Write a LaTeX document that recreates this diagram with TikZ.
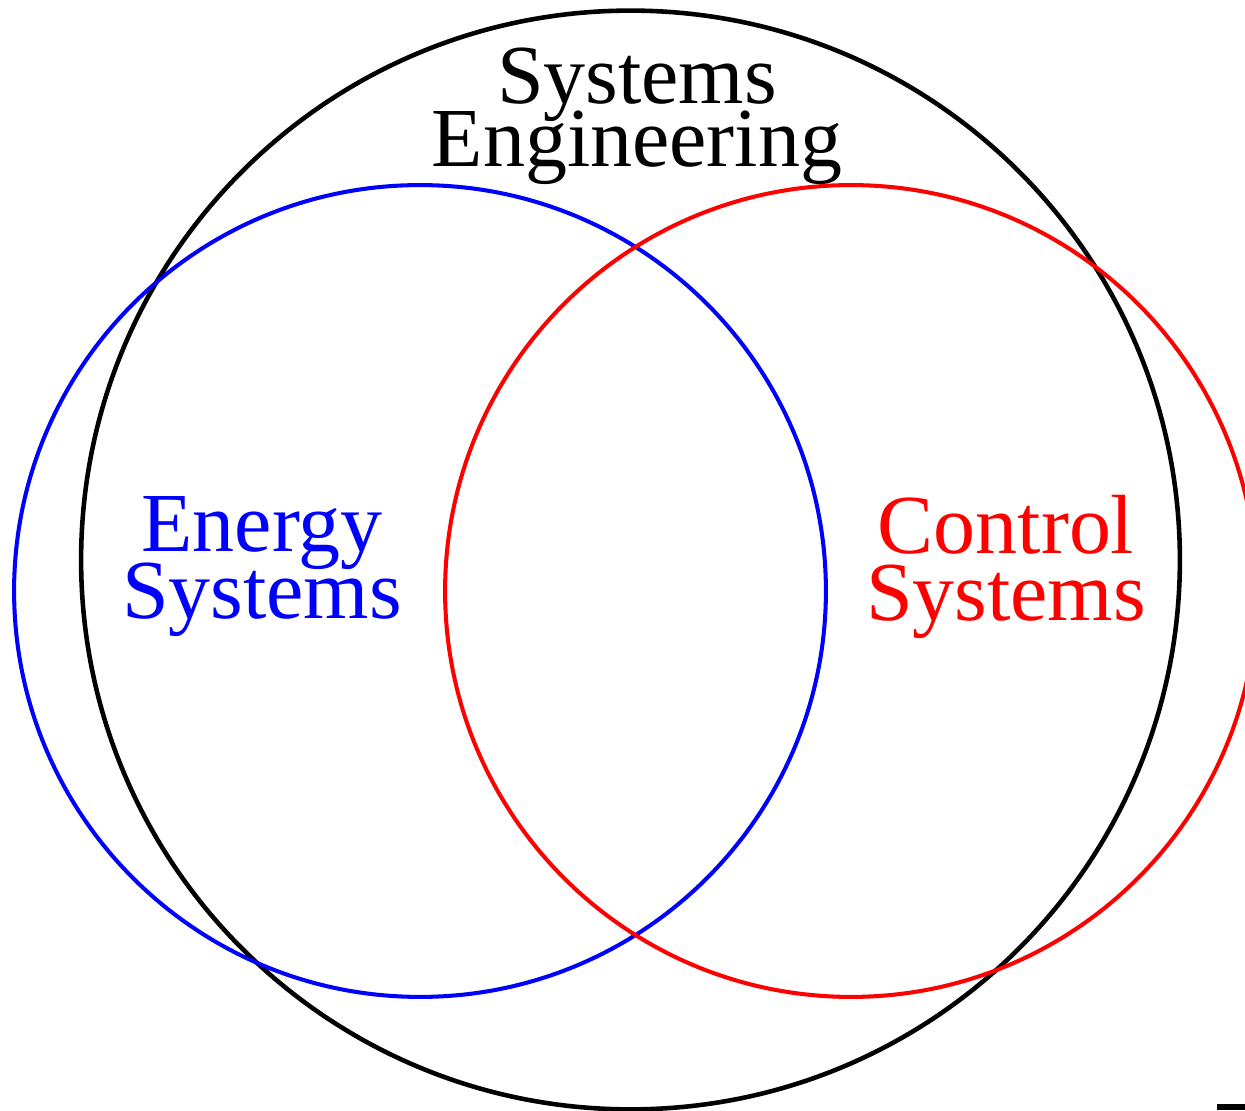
\documentclass[tikz,border=0pt]{standalone}
\usepackage{fontspec}
\setmainfont{Liberation Serif}
\usepackage{xcolor}
\usetikzlibrary{positioning}

\newcommand{\vennfont}[1]{\fontsize{47.8pt}{#1}\selectfont\lineskiplimit=-100pt\relax}

\begin{document}
\begin{tikzpicture}[
  x=0.02cm, y=-0.02cm,
  ring/.style={line width=2.3pt},
  label/.style={align=center,anchor=base,inner sep=0pt,
    font=\vennfont{38.7pt}}
]
\useasboundingbox (0,0) rectangle (1245,1111);

\coordinate (se) at (630.5,560);
\coordinate (es) at (420,591);
\coordinate (cs) at (851,591);

\draw[ring,black,line width=2.6pt] (se) circle[radius=10.99cm];
\draw[ring,blue] (es) circle[radius=8.12cm];
\draw[ring,red] (cs) circle[radius=8.12cm];

\node[label,black,font=\vennfont{36.4pt}] (seng) at (637,167) {Systems\\Engineering};
\node[label,blue] (energy) at (262,619) {Energy\\Systems};
\node[label,red] (control) at (1006,621) {Control\\Systems};

\fill[black] (1217,1104) rectangle (1245,1109.5);

\end{tikzpicture}
\end{document}
